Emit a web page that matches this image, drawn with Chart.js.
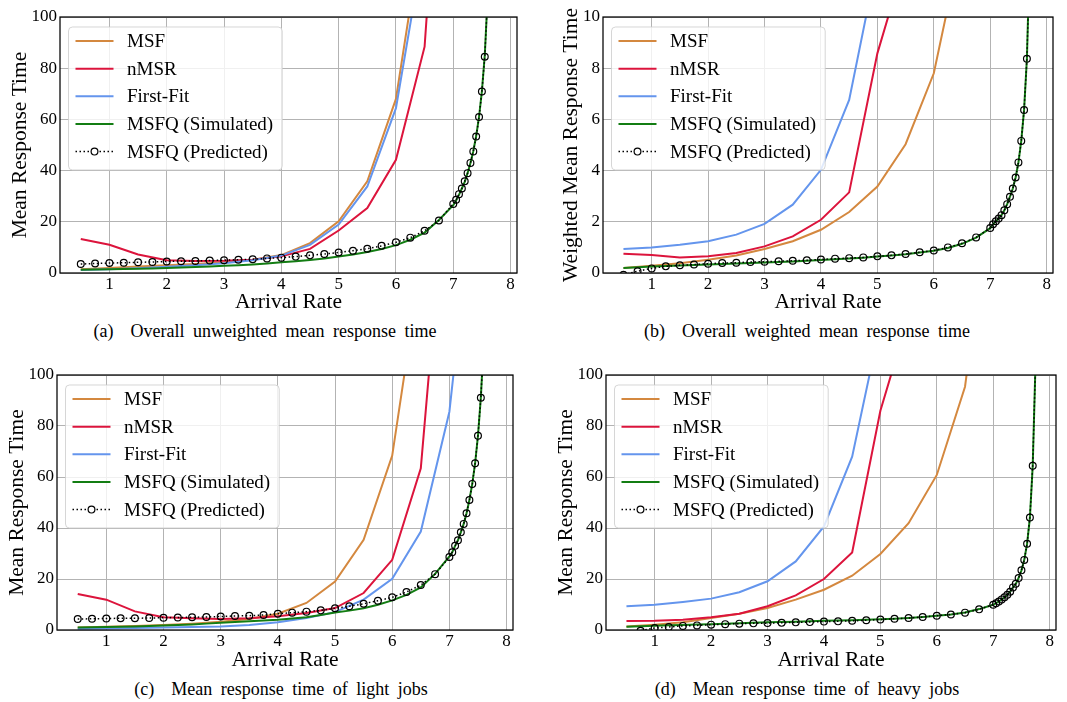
<!DOCTYPE html>
<html><head><meta charset="utf-8">
<script src="https://cdn.jsdelivr.net/npm/chart.js@4.4.1/dist/chart.umd.min.js"></script>
<style>
html,body{margin:0;padding:0;background:#fff;}
body{width:1067px;height:702px;position:relative;overflow:hidden;font-family:"Liberation Serif",serif;}
canvas{position:absolute;display:block;}
.cap{position:absolute;font-size:18px;word-spacing:4px;white-space:nowrap;transform:translate(-50%,-50%);color:#000;}
</style></head><body>
<canvas id="cA" width="530" height="315" style="left:0;top:0"></canvas>
<canvas id="cB" width="537" height="315" style="left:530px;top:0"></canvas>
<canvas id="cC" width="530" height="315" style="left:0;top:358px"></canvas>
<canvas id="cD" width="537" height="315" style="left:530px;top:358px"></canvas>
<div class="cap" style="left:265px;top:331px">(a)&nbsp; Overall unweighted mean response time</div>
<div class="cap" style="left:807px;top:331px">(b)&nbsp; Overall weighted mean response time</div>
<div class="cap" style="left:281px;top:689px">(c)&nbsp; Mean response time of light jobs</div>
<div class="cap" style="left:807px;top:689px">(d)&nbsp; Mean response time of heavy jobs</div>
<script>
// ---------- data ----------
const seriesNames = ['MSF', 'nMSR', 'First-Fit', 'MSFQ (Simulated)', 'MSFQ (Predicted)'];
const xTicks = [1, 2, 3, 4, 5, 6, 7, 8];
const yTicks100 = [0, 20, 40, 60, 80, 100];
const yTicks10 = [0, 2, 4, 6, 8, 10];
const xBase = [0.5, 1, 1.5, 2, 2.5, 3, 3.5, 4, 4.5, 5, 5.5, 6, 6.5, 7, 7.5];
const xQ = [0.5, 0.75, 1, 1.25, 1.5, 1.75, 2, 2.25, 2.5, 2.75, 3, 3.25, 3.5, 3.75, 4, 4.25, 4.5, 4.75, 5, 5.25,
  5.5, 5.75, 6, 6.25, 6.5, 6.75, 7, 7.05, 7.1, 7.15, 7.2, 7.25, 7.3, 7.35, 7.4, 7.45, 7.5, 7.55, 7.6, 7.65, 7.7, 7.75];

// (a) overall unweighted
const msfA = [1.5, 2.0, 2.5, 3.0, 3.5, 4.2, 5.2, 7.0, 11.7, 20.2, 35.8, 68.0, 140];
const nmsrA = [13.3, 11.0, 7.2, 5.0, 4.7, 4.8, 5.2, 6.5, 9.4, 16.6, 25.4, 44.2, 88.4, 250];
const ffA = [1.2, 1.5, 1.9, 2.4, 3.0, 3.8, 5.0, 6.8, 11.0, 18.9, 33.8, 64.4, 130];
const simA = [1.3, 1.4, 1.5, 1.6, 1.7, 1.8, 2.0, 2.1, 2.3, 2.5, 2.8, 3.0, 3.3, 3.7, 4.2, 4.6, 5.1, 5.7, 6.4, 7.2,
  8.2, 9.4, 10.9, 13.0, 15.8, 20.7, 26.5, 28.3, 30.5, 33.0, 35.6, 39.0, 43.0, 47.6, 53.5, 61.0, 71.0, 85.0, 108];
const predA = [3.5, 3.7, 3.9, 4.0, 4.2, 4.3, 4.5, 4.6, 4.7, 4.9, 5.0, 5.2, 5.4, 5.7, 6.0, 6.4, 6.9, 7.4, 8.0, 8.7,
  9.5, 10.6, 12.0, 13.8, 16.5, 20.5, 27.0, 28.6, 30.8, 33.0, 35.8, 39.0, 43.0, 47.5, 53.3, 60.9, 70.9, 84.5, 108];

// (b) overall weighted
const msfB = [0.2, 0.28, 0.38, 0.52, 0.68, 0.94, 1.24, 1.69, 2.38, 3.38, 5.03, 7.8, 13.0];
const nmsrB = [0.75, 0.70, 0.61, 0.65, 0.78, 1.04, 1.43, 2.08, 3.15, 8.58, 12.3];
const ffB = [0.94, 1.0, 1.1, 1.24, 1.5, 1.92, 2.67, 4.03, 6.76, 12.2];
const simB = [0.2, 0.22, 0.25, 0.27, 0.29, 0.31, 0.33, 0.35, 0.37, 0.39, 0.41, 0.43, 0.45, 0.48, 0.51, 0.54, 0.57, 0.60, 0.64, 0.68,
  0.73, 0.80, 0.87, 0.98, 1.14, 1.38, 1.75, 1.9, 2.02, 2.13, 2.26, 2.45, 2.69, 2.98, 3.3, 3.73, 4.32, 5.16, 6.37, 8.37, 12.4];
const predB = [-0.07, 0.07, 0.18, 0.26, 0.30, 0.33, 0.36, 0.39, 0.40, 0.43, 0.44, 0.46, 0.48, 0.50, 0.53, 0.56, 0.58, 0.61, 0.65, 0.69,
  0.74, 0.81, 0.88, 1.0, 1.16, 1.39, 1.76, 1.9, 2.02, 2.13, 2.26, 2.45, 2.69, 2.98, 3.3, 3.73, 4.32, 5.16, 6.37, 8.37, 12.4];

// (c) light jobs
const msfC = [1.0, 1.3, 1.6, 2.0, 2.5, 3.2, 4.3, 6.4, 10.6, 19.0, 35.4, 68.4, 143];
const nmsrC = [14.1, 11.9, 7.3, 5.0, 4.6, 4.3, 4.6, 5.4, 6.7, 8.6, 14.5, 27.5, 63.4, 194];
const ffC = [0.5, 0.6, 0.8, 1.0, 1.2, 1.4, 2.0, 3.0, 4.7, 7.0, 11.9, 20.1, 38.6, 85.6, 188];
const simC = [1.0, 1.1, 1.2, 1.3, 1.4, 1.6, 1.8, 2.0, 2.2, 2.5, 2.8, 3.1, 3.4, 3.7, 4.0, 4.5, 5.0, 5.9, 6.9, 7.6,
  8.5, 9.9, 11.6, 13.8, 16.7, 22.0, 28.9, 30.5, 33.0, 35.2, 38.3, 41.6, 45.8, 51.0, 57.3, 65.4, 76.2, 91.1, 113];
const predC = [4.3, 4.4, 4.5, 4.6, 4.6, 4.7, 4.8, 4.9, 5.0, 5.1, 5.3, 5.5, 5.6, 5.9, 6.4, 6.8, 7.2, 7.7, 8.5, 9.3,
  10.3, 11.5, 12.8, 14.9, 17.6, 21.9, 28.6, 30.5, 33.0, 35.2, 38.3, 41.6, 45.8, 51.0, 57.3, 65.4, 76.2, 91.1, 113];

// (d) heavy jobs
const msfD = [1.4, 2.1, 3.0, 4.7, 6.4, 8.6, 11.9, 15.8, 21.3, 29.8, 41.9, 60.8, 95.4, 180];
const nmsrD = [3.5, 3.6, 4.0, 5.0, 6.4, 9.3, 13.6, 20.0, 30.4, 86.0, 123];
const ffD = [9.3, 9.9, 11.0, 12.3, 14.8, 19.1, 26.9, 40.6, 68.0, 120];
const simD = [1.3, 1.5, 1.7, 1.85, 2.0, 2.15, 2.3, 2.45, 2.6, 2.8, 3.0, 3.1, 3.25, 3.4, 3.6, 3.7, 3.85, 4.0, 4.2, 4.4,
  4.7, 5.1, 5.6, 6.1, 6.9, 8.2, 9.9, 10.5, 11.2, 12.0, 12.8, 13.8, 15.0, 16.7, 18.1, 20.4, 23.4, 27.5, 33.8, 44.1, 64.4, 105];
const predD = [-2.5, -0.3, 0.8, 1.2, 1.6, 1.8, 2.1, 2.3, 2.5, 2.6, 2.7, 2.8, 3.0, 3.1, 3.3, 3.4, 3.6, 3.8, 4.1, 4.4,
  4.7, 5.1, 5.6, 6.1, 6.8, 8.1, 9.9, 10.5, 11.2, 12.0, 12.8, 13.8, 15.0, 16.7, 18.1, 20.4, 23.4, 27.5, 33.8, 44.1, 64.4, 105];

// ---------- rendering ----------
const FAM = '"Liberation Serif", "Times New Roman", serif';
const colors = ['#d4883f', '#dc143c', '#6495ed', '#137d13', '#000000'];
const pts = (xs, ys) => ys.map((y, i) => ({x: xs[i], y: y}));

const framePlugin = {
  id: 'frameLegend',
  afterDatasetsDraw(chart) {
    const ctx = chart.ctx, a = chart.chartArea;
    ctx.save();
    ctx.strokeStyle = '#000'; ctx.lineWidth = 1.25;
    ctx.strokeRect(a.left, a.top, a.right - a.left, a.bottom - a.top);
    // legend
    ctx.font = '19px ' + FAM;
    const ds = chart.data.datasets;
    let maxW = 0;
    ds.forEach(d => { maxW = Math.max(maxW, ctx.measureText(d.label).width); });
    const fx = a.left + 8.5, fy = a.top + 10;
    const fw = 67 - 8.5 + maxW + 9, fh = 143;
    ctx.beginPath();
    ctx.roundRect(fx, fy, fw, fh, 4);
    ctx.fillStyle = 'rgba(255,255,255,0.8)'; ctx.fill();
    ctx.strokeStyle = 'rgba(204,204,204,0.8)'; ctx.lineWidth = 1; ctx.stroke();
    ds.forEach((d, i) => {
      const y = a.top + 24 + i * 27.65;
      const x0 = a.left + 15.5, x1 = a.left + 53.5;
      ctx.beginPath();
      ctx.setLineDash(d.borderDash || []);
      ctx.strokeStyle = d.borderColor; ctx.lineWidth = d.borderWidth;
      ctx.moveTo(x0, y); ctx.lineTo(x1, y); ctx.stroke();
      ctx.setLineDash([]);
      if (d.pointRadius > 0) {
        ctx.beginPath(); ctx.arc((x0 + x1) / 2, y, d.pointRadius, 0, Math.PI * 2);
        ctx.fillStyle = '#fff'; ctx.fill();
        ctx.lineWidth = d.pointBorderWidth; ctx.strokeStyle = d.pointBorderColor; ctx.stroke();
      }
      ctx.fillStyle = '#000'; ctx.textBaseline = 'middle'; ctx.textAlign = 'left';
      ctx.fillText(d.label, a.left + 67, y + 1);
    });
    ctx.restore();
  }
};

function makeChart(id, s, opt) {
  const mk = (i, data, extra) => Object.assign({
    label: seriesNames[i], data: data, borderColor: colors[i], borderWidth: 2,
    pointRadius: 0, fill: false, tension: 0, clip: 0, order: 5 - i
  }, extra || {});
  const datasets = [
    mk(0, pts(xBase, s[0])),
    mk(1, pts(xBase, s[1])),
    mk(2, pts(xBase, s[2])),
    mk(3, pts(xQ, s[3])),
    mk(4, pts(xQ, s[4]), {borderWidth: 1.5, borderDash: [1.5, 2.5], pointRadius: 3.4,
      pointBorderWidth: 1.2, pointBorderColor: '#000', pointBackgroundColor: 'rgba(0,0,0,0)'})
  ];
  return new Chart(document.getElementById(id), {
    type: 'line',
    data: {datasets: datasets},
    plugins: [framePlugin],
    options: {
      responsive: false, animation: false, events: [],
      layout: {padding: {top: 17, right: opt.rp, left: 0, bottom: 0}},
      plugins: {legend: {display: false}, tooltip: {enabled: false}},
      scales: {
        x: {
          type: 'linear', min: 0.1375, max: 8.1125,
          afterBuildTicks: sc => { sc.ticks = xTicks.map(v => ({value: v})); },
          afterFit: sc => { sc.height = opt.xh; },
          ticks: {color: '#000', font: {family: FAM, size: 17}, padding: 1, maxRotation: 0, autoSkip: false},
          grid: {color: '#b3b3b3', lineWidth: 1, drawTicks: false},
          border: {display: false},
          title: {display: true, text: 'Arrival Rate', color: '#000', font: {family: FAM, size: 21.5}, padding: {top: 0, bottom: 0}}
        },
        y: {
          type: 'linear', min: 0, max: opt.ymax,
          afterBuildTicks: sc => { sc.ticks = opt.yt.map(v => ({value: v})); },
          afterFit: sc => { sc.width = opt.yw; },
          ticks: {color: '#000', font: {family: FAM, size: 17}, padding: 3},
          grid: {color: '#b3b3b3', lineWidth: 1, drawTicks: false},
          border: {display: false},
          title: {display: true, text: opt.ytitle, color: '#000', font: {family: FAM, size: 21.5}, padding: {top: opt.tp, bottom: 0}}
        }
      }
    }
  });
}

makeChart('cA', [msfA, nmsrA, ffA, simA, predA], {rp: 13, xh: 42, yw: 60, tp: 7, ymax: 100, yt: yTicks100, ytitle: 'Mean Response Time'});
makeChart('cB', [msfB, nmsrB, ffB, simB, predB], {rp: 14, xh: 42, yw: 73, tp: 28, ymax: 10, yt: yTicks10, ytitle: 'Weighted Mean Response Time'});
makeChart('cC', [msfC, nmsrC, ffC, simC, predC], {rp: 17, xh: 43, yw: 57, tp: 4, ymax: 100, yt: yTicks100, ytitle: 'Mean Response Time'});
makeChart('cD', [msfD, nmsrD, ffD, simD, predD], {rp: 11, xh: 43, yw: 76, tp: 23, ymax: 100, yt: yTicks100, ytitle: 'Mean Response Time'});
</script>
</body></html>
